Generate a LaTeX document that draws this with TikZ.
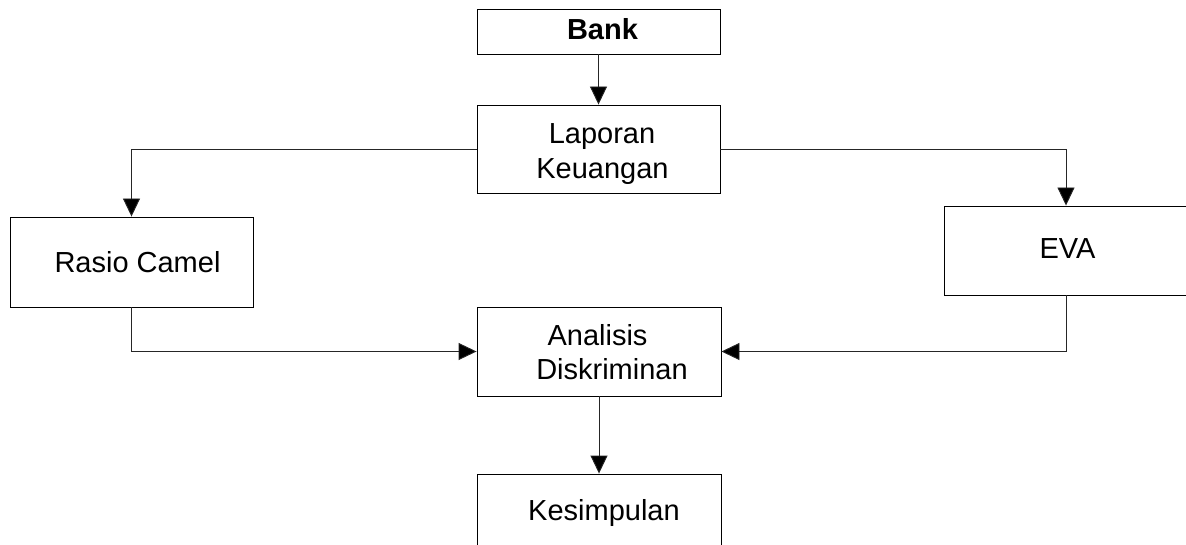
\documentclass[tikz,border=0pt]{standalone}
\usepackage{fontspec}
\setmainfont{Liberation Sans}
\usetikzlibrary{arrows.meta}
\tikzset{
  boxnode/.style={draw=black, line width=0.9pt, inner sep=0pt, minimum width=243pt},
  txt/.style={anchor=base, inner sep=0pt, font=\fontsize{29}{34}\selectfont},
  conn/.style={draw=black!85, line width=0.9pt, -{Triangle[width=17pt,length=18pt,fill=black]}}
}
\begin{document}
\begin{tikzpicture}[x=1pt,y=-1pt]
\path[use as bounding box] (0,0) rectangle (1186,545);
\clip (0,0) rectangle (1186,545);
% boxes
\node[boxnode, minimum height=45pt] (bank) at (598.5,31.5) {};
\node[boxnode, minimum height=88pt] (lap) at (598.5,149) {};
\node[boxnode, minimum height=90pt] (rasio) at (131.5,262) {};
\node[boxnode, minimum width=244pt, minimum height=89pt] (eva) at (1066,250.5) {};
\node[boxnode, minimum width=244pt, minimum height=89pt] (ana) at (599,351.5) {};
\node[boxnode, minimum width=244pt, minimum height=88pt] (kes) at (599,518) {};
% texts
\node[txt] (tbank) at (602.5,40) {\bfseries Bank};
\node[txt] (tlap1) at (602,143.5) {Laporan};
\node[txt] (tlap2) at (602.5,179) {Keuangan};
\node[txt] (trasio) at (137.5,272.5) {Rasio Camel};
\node[txt] (teva) at (1067.5,258.5) {EVA};
\node[txt] (tana1) at (597.5,345) {Analisis};
\node[txt] (tana2) at (612,379) {Diskriminan};
\node[txt] (tkes) at (604,520.5) {Kesimpulan};
% connectors
\draw[conn] (bank.south) -- (lap.north);
\draw[conn] (lap.west) -| (rasio.north);
\draw[conn] (lap.east) -| (eva.north);
\draw[conn] (rasio.south) |- (ana.west);
\draw[conn] (eva.south) |- (ana.east);
\draw[conn] (ana.south) -- (kes.north);
\end{tikzpicture}
\end{document}
